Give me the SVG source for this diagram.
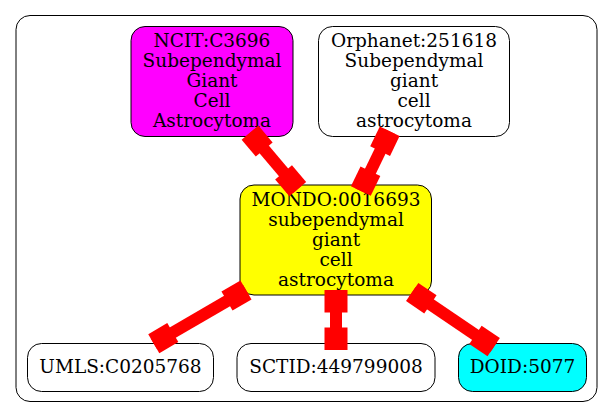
<svg xmlns="http://www.w3.org/2000/svg" width="613" height="419" viewBox="0 0 613 419">
<style>
.box{stroke:#000;stroke-width:1}
.t{font-family:"DejaVu Serif",serif;font-size:18.5px;fill:#000;text-anchor:middle}
.e rect{fill:#ff0000}
</style>
<rect x="0" y="0" width="613" height="419" fill="#fff"/>
<rect id="cluster" x="16" y="15.5" width="581" height="386" rx="14" ry="14" fill="none" stroke="#000" stroke-width="1"/>
<g id="ncit">
<rect class="box" x="131" y="26.5" width="162" height="110" rx="14" ry="14" fill="#ff00ff"/>
<text class="t" x="212" y="47">NCIT:C3696</text>
<text class="t" x="212" y="67">Subependymal</text>
<text class="t" x="212" y="87">Giant</text>
<text class="t" x="212" y="107">Cell</text>
<text class="t" x="212" y="127">Astrocytoma</text>
</g>
<g id="orphanet">
<rect class="box" x="318.5" y="26.5" width="191" height="110" rx="14" ry="14" fill="#fff"/>
<text class="t" x="414" y="47">Orphanet:251618</text>
<text class="t" x="414" y="67">Subependymal</text>
<text class="t" x="414" y="87">giant</text>
<text class="t" x="414" y="107">cell</text>
<text class="t" x="414" y="127">astrocytoma</text>
</g>
<g id="mondo">
<rect class="box" x="240" y="185" width="191.5" height="110" rx="14" ry="14" fill="#ffff00"/>
<text class="t" x="336" y="205.5">MONDO:0016693</text>
<text class="t" x="336" y="225.5">subependymal</text>
<text class="t" x="336" y="245.5">giant</text>
<text class="t" x="336" y="265.5">cell</text>
<text class="t" x="336" y="285.5">astrocytoma</text>
</g>
<g id="umls">
<rect class="box" x="27.5" y="343.5" width="186" height="48" rx="14" ry="14" fill="#fff"/>
<text class="t" x="120.5" y="372.5">UMLS:C0205768</text>
</g>
<g id="sctid">
<rect class="box" x="237" y="343.5" width="198" height="48" rx="14" ry="14" fill="#fff"/>
<text class="t" x="336" y="372.5">SCTID:449799008</text>
</g>
<g id="doid">
<rect class="box" x="458.5" y="343.5" width="128" height="48" rx="14" ry="14" fill="#00ffff"/>
<text class="t" x="522.5" y="372.5">DOID:5077</text>
</g>
<g id="edges" class="e">
<g id="e-ncit" transform="translate(250,132.7) rotate(49.8)">
<rect x="0" y="-11" width="22" height="22"/><rect x="0" y="-6" width="74" height="12"/><rect x="52" y="-11" width="22" height="22"/>
</g>
<g id="e-orphanet" transform="translate(389.7,131.3) rotate(115.8)">
<rect x="0" y="-11" width="22" height="22"/><rect x="0" y="-6" width="66.3" height="12"/><rect x="44.3" y="-11" width="22" height="22"/>
</g>
<g id="e-umls" transform="translate(246,290) rotate(149.8)">
<rect x="0" y="-11" width="22" height="22"/><rect x="0" y="-6" width="106.7" height="12"/><rect x="84.7" y="-11" width="22" height="22"/>
</g>
<g id="e-sctid" transform="translate(336,290) rotate(90)">
<rect x="0" y="-11.5" width="22.5" height="23"/><rect x="0" y="-6" width="60" height="12"/><rect x="37.5" y="-11.5" width="22.5" height="23"/>
</g>
<g id="e-doid" transform="translate(412.2,292) rotate(34.1)">
<rect x="0" y="-11" width="22" height="22"/><rect x="0" y="-6" width="98.4" height="12"/><rect x="76.4" y="-11" width="22" height="22"/>
</g>
</g>
</svg>
